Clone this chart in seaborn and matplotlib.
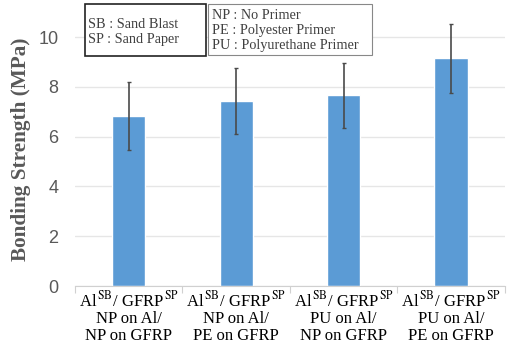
import matplotlib
matplotlib.use("Agg")
import matplotlib.pyplot as plt
import matplotlib.patches as mpatches
from matplotlib.ticker import FixedLocator
import pandas as pd
import seaborn as sns

# data
categories = [
    "Al$^{\\,\\mathrm{SB}}$/ GFRP$^{\\,\\mathrm{SP}}$\nNP on Al/\nNP on GFRP",
    "Al$^{\\,\\mathrm{SB}}$/ GFRP$^{\\,\\mathrm{SP}}$\nNP on Al/\nPE on GFRP",
    "Al$^{\\,\\mathrm{SB}}$/ GFRP$^{\\,\\mathrm{SP}}$\nPU on Al/\nNP on GFRP",
    "Al$^{\\,\\mathrm{SB}}$/ GFRP$^{\\,\\mathrm{SP}}$\nPU on Al/\nPE on GFRP",
]
strength = [6.83, 7.44, 7.66, 9.14]
std_dev = [1.35, 1.32, 1.30, 1.37]
yticks = [0, 2, 4, 6, 8, 10]

box1_lines = ["SB : Sand Blast", "SP : Sand Paper"]
box2_lines = ["NP : No Primer", "PE : Polyester Primer", "PU : Polyurethane Primer"]

sns.set_style("white")
plt.rcParams["mathtext.fontset"] = "stix"
plt.rcParams["font.family"] = ["Liberation Serif", "DejaVu Serif"]

df = pd.DataFrame({"cat": categories, "val": strength})

fig = plt.figure(figsize=(5.1, 3.46), dpi=100)
ax = fig.add_axes([0.147, 0.173, 0.843, 0.792])

sns.barplot(data=df, x="cat", y="val", color="#5B9BD5", width=0.31,
            saturation=1, ax=ax, zorder=2)
ax.errorbar(range(len(strength)), strength, yerr=std_dev, fmt="none",
            ecolor="#4a4a4a", elinewidth=1.2, capsize=1.5, capthick=1.0, zorder=3)

ax.set_ylim(0, 11)
ax.set_xlim(-0.5, len(categories) - 0.5)
ax.set_yticks(yticks)
ax.set_yticklabels([str(t) for t in yticks], family="Liberation Sans",
                   fontsize=13, color="#595959")
ax.yaxis.grid(True, color="#e6e6e6", linewidth=1, zorder=0)
ax.set_axisbelow(True)
ax.tick_params(axis="y", length=0, pad=12)

ax.set_xlabel("")
ax.set_xticklabels(categories, fontsize=12, color="black", linespacing=1.05)
ax.tick_params(axis="x", which="major", length=0, pad=3)
ax.xaxis.set_minor_locator(FixedLocator([-0.5, 0.5, 1.5, 2.5, 3.5]))
ax.tick_params(axis="x", which="minor", length=5, width=0.8, color="#d0d0d0",
               bottom=True)

for side in ["left", "right", "top"]:
    ax.spines[side].set_visible(False)
ax.spines["bottom"].set_color("#d0d0d0")
ax.spines["bottom"].set_linewidth(0.8)

ax.set_ylabel("Bonding Strength (MPa)", fontsize=15.3, fontweight="bold",
              color="#595959", labelpad=5)

# annotation boxes at the top
W, H = 510, 346
fig.patches.append(mpatches.Rectangle((85 / W, 1 - 56 / H), 121 / W, 52 / H,
                                      transform=fig.transFigure, fill=True,
                                      facecolor="white", edgecolor="#222222",
                                      linewidth=1.2, zorder=5))
fig.patches.append(mpatches.Rectangle((208 / W, 1 - 55 / H), 164 / W, 51 / H,
                                      transform=fig.transFigure, fill=True,
                                      facecolor="white", edgecolor="#888888",
                                      linewidth=0.8, zorder=5))
for i, line in enumerate(box1_lines):
    fig.text(88 / W, 1 - (24 + 15 * i) / H, line, fontsize=10.3,
             color="#404040", va="center", ha="left", zorder=6)
for i, line in enumerate(box2_lines):
    fig.text(212 / W, 1 - (15.5 + 15 * i) / H, line, fontsize=10.3,
             color="#404040", va="center", ha="left", zorder=6)

fig.savefig("out.png", dpi=100)
